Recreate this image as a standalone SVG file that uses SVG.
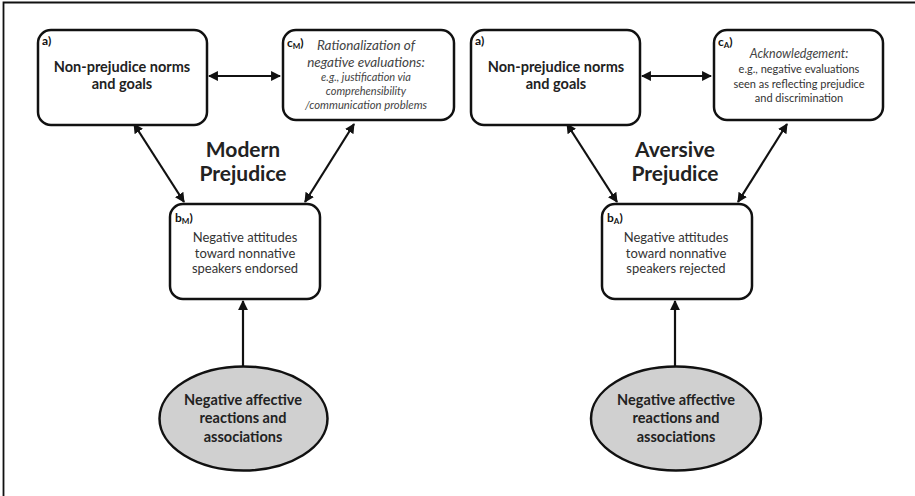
<svg xmlns="http://www.w3.org/2000/svg" width="915" height="496" viewBox="0 0 915 496">
<style>
.box{fill:#fff;stroke:#111;stroke-width:2.5}
.ell{fill:#d0d0d0;stroke:#111;stroke-width:2.5}
.t{font-family:Lato,"Liberation Sans",sans-serif;text-anchor:middle;fill:#333}
.b{font-weight:bold;fill:#222}
.i{font-style:italic;fill:#444}
.lbl{font-family:Lato,"Liberation Sans",sans-serif;font-weight:bold;font-size:12px;fill:#111}
.con{stroke:#111;stroke-width:2.2;fill:none}
.title{font-family:Lato,"Liberation Sans",sans-serif;font-weight:bold;font-size:21px;text-anchor:middle;fill:#222}
</style>
<defs>
<marker id="ah" viewBox="0 0 10 10" refX="9" refY="5" markerWidth="4.5" markerHeight="4.5" orient="auto-start-reverse">
<path d="M0,0 L10,5 L0,10 z" fill="#111"/>
</marker>
</defs>
<rect width="915" height="496" fill="#fff"/>
<path d="M3.5,496 V2.5 H915" fill="none" stroke="#111" stroke-width="1.8"/>

<g id="connectors">
<line class="con" x1="209" y1="76" x2="280" y2="76" marker-start="url(#ah)" marker-end="url(#ah)"/>
<line class="con" x1="134" y1="124" x2="184" y2="202" marker-start="url(#ah)" marker-end="url(#ah)"/>
<line class="con" x1="354" y1="124" x2="305" y2="202" marker-start="url(#ah)" marker-end="url(#ah)"/>
<line class="con" x1="243" y1="366" x2="243" y2="301" marker-end="url(#ah)"/>
<line class="con" x1="642" y1="76" x2="711" y2="76" marker-start="url(#ah)" marker-end="url(#ah)"/>
<line class="con" x1="567" y1="124" x2="617" y2="202" marker-start="url(#ah)" marker-end="url(#ah)"/>
<line class="con" x1="787" y1="124" x2="738" y2="202" marker-start="url(#ah)" marker-end="url(#ah)"/>
<line class="con" x1="675" y1="366" x2="675" y2="301" marker-end="url(#ah)"/>
</g>

<g id="modern-a">
<rect class="box" x="38" y="30" width="169" height="95" rx="13"/>
<text class="lbl" x="42" y="45">a)</text>
<text class="t b" font-size="14.5" x="122" y="72">Non-prejudice norms</text>
<text class="t b" font-size="14.5" x="122" y="89">and goals</text>
</g>
<g id="modern-c">
<rect class="box" x="283" y="30" width="171" height="90" rx="13"/>
<text class="lbl" x="287" y="47">c<tspan font-size="8" dy="2">M</tspan><tspan dy="-2">)</tspan></text>
<text class="t i" font-size="13.5" x="366" y="50">Rationalization of</text>
<text class="t i" font-size="13.5" x="366" y="67">negative evaluations:</text>
<text class="t i" font-size="11" x="366" y="81">e.g., justification via</text>
<text class="t i" font-size="11" x="366" y="95">comprehensibility</text>
<text class="t i" font-size="11.3" x="366" y="109">/communication problems</text>
</g>
<g id="modern-b">
<rect class="box" x="170" y="204" width="150" height="95" rx="13"/>
<text class="lbl" x="175" y="222">b<tspan font-size="8" dy="2">M</tspan><tspan dy="-2">)</tspan></text>
<text class="t" font-size="13" x="245" y="242">Negative attitudes</text>
<text class="t" font-size="13" x="245" y="258">toward nonnative</text>
<text class="t" font-size="13" x="245" y="273">speakers endorsed</text>
</g>
<g id="modern-e">
<ellipse class="ell" cx="243.5" cy="418.5" rx="84" ry="52"/>
<text class="t b" font-size="14.5" x="243" y="405">Negative affective</text>
<text class="t b" font-size="14.5" x="243" y="423">reactions and</text>
<text class="t b" font-size="14.5" x="243" y="442">associations</text>
</g>
<g id="modern-title">
<text class="title" x="243" y="157">Modern</text>
<text class="title" x="243" y="181">Prejudice</text>
</g>

<g id="aversive-a">
<rect class="box" x="471" y="30" width="169" height="95" rx="13"/>
<text class="lbl" x="475" y="45">a)</text>
<text class="t b" font-size="14.5" x="556" y="72">Non-prejudice norms</text>
<text class="t b" font-size="14.5" x="556" y="89">and goals</text>
</g>
<g id="aversive-c">
<rect class="box" x="714" y="30" width="169" height="90" rx="13"/>
<text class="lbl" x="718" y="46">c<tspan font-size="8" dy="2">A</tspan><tspan dy="-2">)</tspan></text>
<text class="t i" font-size="12.5" x="799" y="58">Acknowledgement:</text>
<text class="t" font-size="11" x="799" y="73">e.g., negative evaluations</text>
<text class="t" font-size="11" x="799" y="88">seen as reflecting prejudice</text>
<text class="t" font-size="11" x="799" y="102">and discrimination</text>
</g>
<g id="aversive-b">
<rect class="box" x="602" y="204" width="150" height="95" rx="13"/>
<text class="lbl" x="607" y="222">b<tspan font-size="8" dy="2">A</tspan><tspan dy="-2">)</tspan></text>
<text class="t" font-size="13" x="676" y="242">Negative attitudes</text>
<text class="t" font-size="13" x="676" y="258">toward nonnative</text>
<text class="t" font-size="13" x="676" y="273">speakers rejected</text>
</g>
<g id="aversive-e">
<ellipse class="ell" cx="676" cy="418.5" rx="85" ry="52"/>
<text class="t b" font-size="14.5" x="676" y="405">Negative affective</text>
<text class="t b" font-size="14.5" x="676" y="423">reactions and</text>
<text class="t b" font-size="14.5" x="676" y="442">associations</text>
</g>
<g id="aversive-title">
<text class="title" x="675" y="157">Aversive</text>
<text class="title" x="675" y="181">Prejudice</text>
</g>
</svg>
